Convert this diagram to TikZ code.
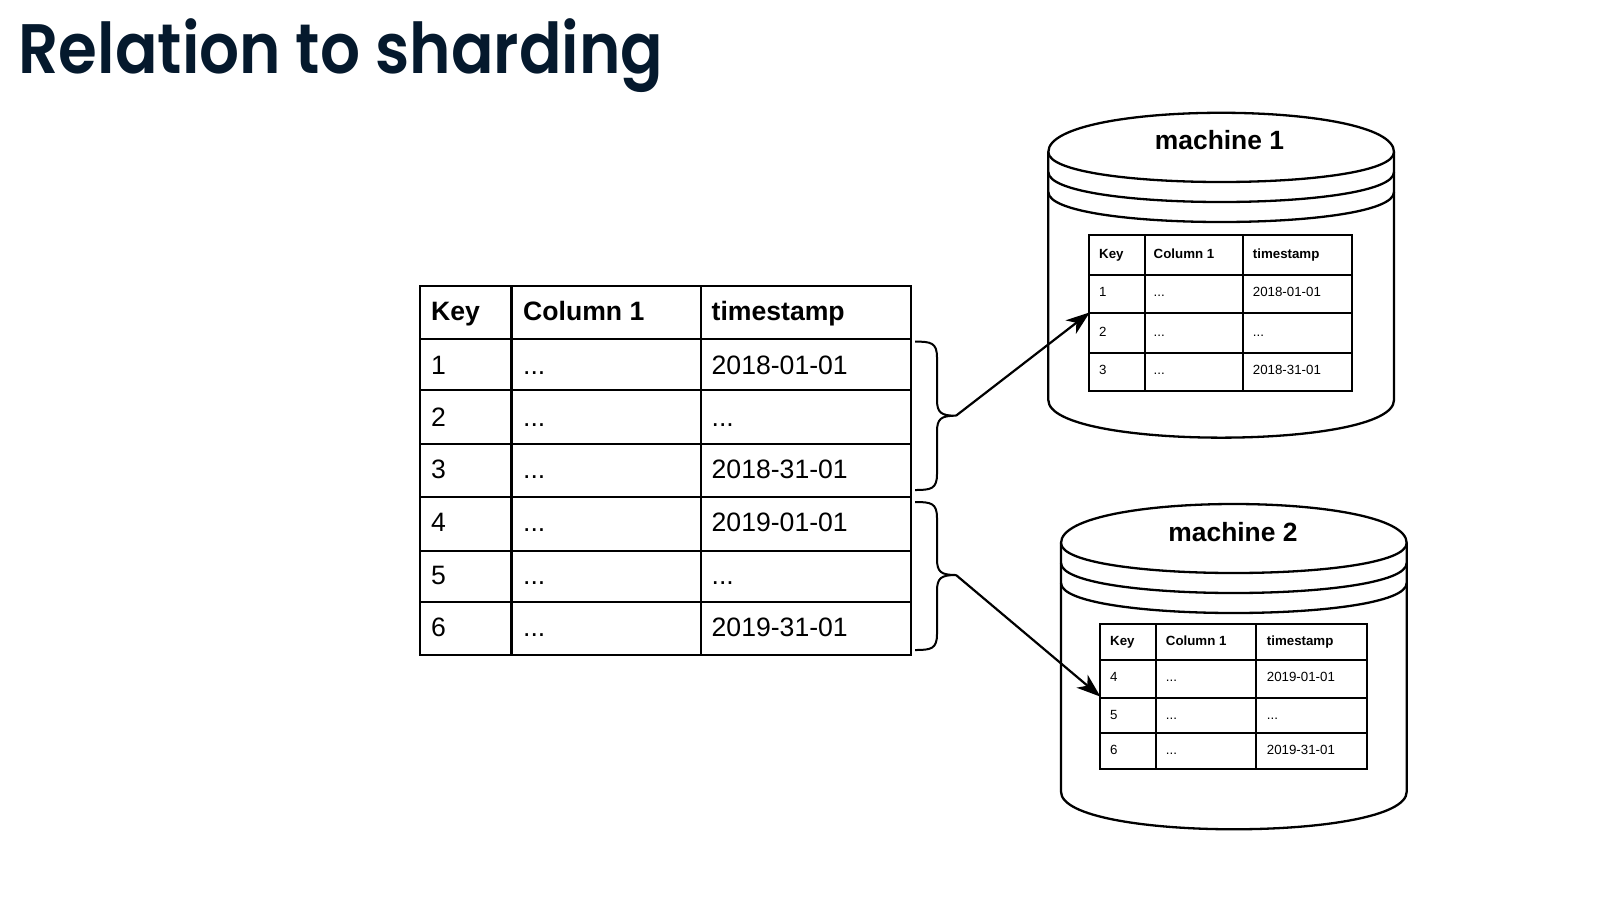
\documentclass[tikz,border=0pt]{standalone}
\usepackage{fontspec}
\setmainfont{Liberation Sans}
\newfontfamily\titlefont[FakeStretch=0.897]{Poppins SemiBold}
\usetikzlibrary{arrows.meta}
\definecolor{titleink}{HTML}{05192D}
\newcommand{\bigfont}{\fontsize{26.6}{30}\selectfont}
\newcommand{\smallfont}{\fontsize{13.3}{15}\selectfont}
\newcommand{\threedots}{{.}{.}{.}}
\tikzset{
  gridline/.style={line width=2.2pt,draw=black},
  storeline/.style={line width=2.3pt,draw=black,line join=round},
  bracket/.style={line width=2pt,draw=black},
  link/.style={line width=2.2pt,draw=black,-{Stealth[length=24pt,width=17pt,inset=7pt]},shorten >=-1pt},
  bigcell/.style={font=\bigfont,anchor=west,inner sep=0pt,text height=19pt,text depth=0pt},
  bighead/.style={bigcell,font=\bigfont\bfseries},
  smallcell/.style={font=\smallfont,anchor=west,inner sep=0pt,text height=9.5pt,text depth=0pt},
  smallhead/.style={smallcell,font=\smallfont\bfseries},
  storelabel/.style={font=\fontsize{26.4}{30}\selectfont\bfseries,inner sep=0pt},
  headline/.style={font=\titlefont\fontsize{70}{80}\selectfont,text=titleink,anchor=base west,inner sep=0pt}
}
% #1 left, #2 right, #3 top, #4 rim, #5 body end, #6 bottom
\newcommand{\datastore}[6]{%
  \draw[storeline] (#1,#4) .. controls (#1,#3-13) and (#2,#3-13) .. (#2,#4)
    -- (#2,#5) .. controls (#2,#6+12.5) and (#1,#6+12.5) .. (#1,#5) -- cycle;
  \draw[storeline] (#1,#4) .. controls (#1,#4+40) and (#2,#4+40) .. (#2,#4);
  \draw[storeline] (#1,#4+20) .. controls (#1,#4+60) and (#2,#4+60) .. (#2,#4+20);
  \draw[storeline] (#1,#4+40) .. controls (#1,#4+80) and (#2,#4+80) .. (#2,#4+40);
}
% #1 x start, #2 top, #3 middle, #4 bottom, #5 tip name
\newcommand{\curlybrace}[5]{%
  \draw[bracket] (#1,#2) .. controls (#1+16,#2) and (#1+22,#2+1) .. (#1+22,#2+16)
    -- (#1+22,#3-16) .. controls (#1+22,#3-3) and (#1+26,#3) .. (#1+41,#3)
    .. controls (#1+26,#3) and (#1+22,#3+3) .. (#1+22,#3+16)
    -- (#1+22,#4-16) .. controls (#1+22,#4-1) and (#1+16,#4) .. (#1,#4);
  \coordinate (#5) at (#1+41,#3);
}
\begin{document}
\begin{tikzpicture}[x=1pt,y=-1pt]
\useasboundingbox (0,0) rectangle (1614,903);
\node[headline] (title) at (18.5,73.5) {Relation to sharding};

% main table
\draw[gridline] (420,285.7) rectangle (911,655);
\foreach \x in {511.5,701} \draw[gridline] (\x,285.7) -- (\x,655);
\foreach \y in {339.3,390.3,443.7,497,550.7,602.3} \draw[gridline] (420,\y) -- (911,\y);
\node[bighead] (mh1) at (431,311) {Key};
\node[bighead] (mh2) at (523,311) {Column 1};
\node[bighead] (mh3) at (711.5,311) {timestamp};
\foreach \n/\y/\valA/\valB in {1/365/\threedots/2018-01-01,2/417/\threedots/\threedots,3/469/\threedots/2018-31-01,4/522/\threedots/2019-01-01,5/575/\threedots/\threedots,6/627/\threedots/2019-31-01}{
  \node[bigcell] (mk\n) at (431,\y) {\n};
  \node[bigcell] (mc\n) at (523,\y) {\valA};
  \node[bigcell] (mt\n) at (711.5,\y) {\valB};
}

% braces
\curlybrace{915}{341.6}{415.7}{490}{tipA}
\curlybrace{915}{502}{575}{650}{tipB}

% machine 1
\datastore{1048.3}{1394}{112.7}{152}{400}{437.7}
\node[storelabel] (m1) at (1219.5,140) {machine 1};
\draw[gridline] (1089,234.7) rectangle (1351.7,390.7);
\foreach \x in {1145,1242.8} \draw[gridline] (\x,234.7) -- (\x,390.7);
\foreach \y in {274.8,312.6,352.7} \draw[gridline] (1089,\y) -- (1351.7,\y);
\node[smallhead] (ah1) at (1099,253.5) {Key};
\node[smallhead] (ah2) at (1153.5,253.5) {Column 1};
\node[smallhead] (ah3) at (1252.7,253.5) {timestamp};
\foreach \n/\y/\valA/\valB in {1/292/\threedots/2018-01-01,2/332/\threedots/\threedots,3/370/\threedots/2018-31-01}{
  \node[smallcell] (ak\n) at (1099,\y) {\n};
  \node[smallcell] (ac\n) at (1153.5,\y) {\valA};
  \node[smallcell] (at\n) at (1252.7,\y) {\valB};
}
\coordinate (inA) at (1089,313);

% machine 2
\datastore{1061}{1406.7}{504}{543}{791.7}{829.3}
\node[storelabel] (m2) at (1233,531.7) {machine 2};
\draw[gridline] (1099.7,624.3) rectangle (1367.2,768.7);
\foreach \x in {1155.7,1256} \draw[gridline] (\x,624.3) -- (\x,768.7);
\foreach \y in {659.8,697.8,733} \draw[gridline] (1099.7,\y) -- (1367.2,\y);
\node[smallhead] (bh1) at (1110,640.5) {Key};
\node[smallhead] (bh2) at (1165.7,640.5) {Column 1};
\node[smallhead] (bh3) at (1266.7,640.5) {timestamp};
\foreach \n/\y/\valA/\valB in {4/677/\threedots/2019-01-01,5/715/\threedots/\threedots,6/750/\threedots/2019-31-01}{
  \node[smallcell] (bk\n) at (1110,\y) {\n};
  \node[smallcell] (bc\n) at (1165.7,\y) {\valA};
  \node[smallcell] (bt\n) at (1266.7,\y) {\valB};
}
\coordinate (inB) at (1099.7,696);

% connectors
\draw[link] (tipA) -- (inA);
\draw[link] (tipB) -- (inB);
\end{tikzpicture}
\end{document}
